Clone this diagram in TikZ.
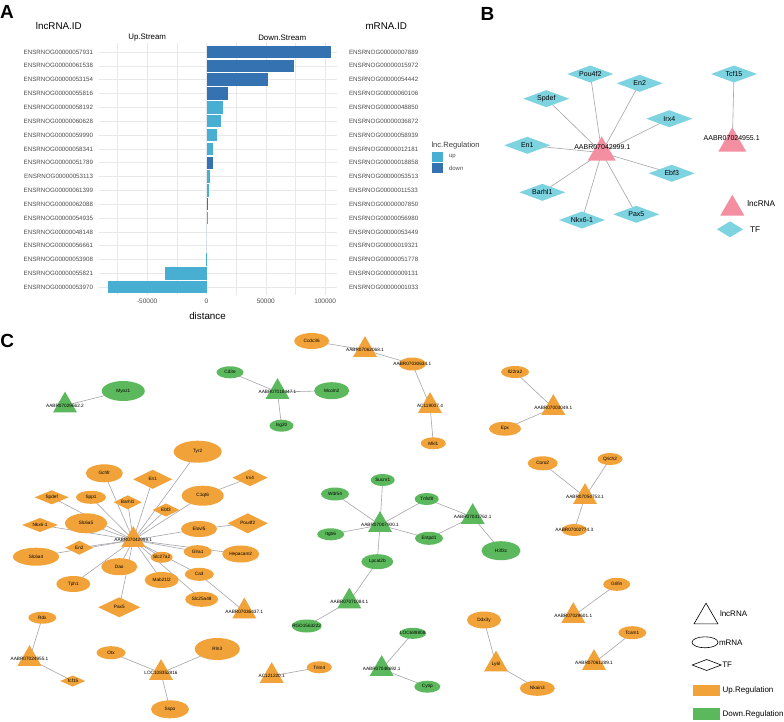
\documentclass[tikz,border=0pt]{standalone}
\usepackage{fontspec}
\setmainfont{Liberation Sans}
\usetikzlibrary{shapes.geometric,backgrounds}
\pgfdeclarelayer{bgw}
\pgfsetlayers{bgw,background,main}
\definecolor{cor}{RGB}{241,163,58}
\definecolor{cgr}{RGB}{92,184,92}
\definecolor{cpk}{RGB}{243,143,160}
\definecolor{ccy}{RGB}{126,211,224}
\definecolor{bdn}{RGB}{53,114,178}
\definecolor{bup}{RGB}{73,175,210}
\definecolor{edg}{RGB}{165,165,172}
\definecolor{grd}{RGB}{232,232,232}
\definecolor{axt}{RGB}{77,77,77}
\newcommand{\Zb}[1]{\makebox[0pt]{#1}}
\begin{document}
\begin{tikzpicture}[x=1pt,y=-1pt,
  every node/.style={inner sep=0pt,outer sep=0pt},
  sz/.style 2 args={minimum width=#1pt,minimum height=#2pt},
  ctx/.style={font=\fontsize{4.7}{5}\selectfont},
  btx/.style={font=\fontsize{7}{8}\selectfont},
  idl/.style={font=\fontsize{6.2}{7}\selectfont,text=axt},
  hdr/.style={font=\fontsize{9.8}{11}\selectfont},
  subh/.style={font=\fontsize{7.9}{9}\selectfont},
  lgt/.style={font=\fontsize{8}{9}\selectfont,anchor=west},
  panel/.style={font=\fontsize{19}{20}\selectfont\bfseries,anchor=base west},
  ctri/.style={regular polygon,regular polygon sides=3,minimum size=27.7pt,ctx},
  uT/.style={ctri,fill=cor},
  dT/.style={ctri,fill=cgr},
  uE/.style={ellipse,fill=cor,ctx},
  dE/.style={ellipse,fill=cgr,ctx},
  uD/.style={diamond,fill=cor,ctx},
  bD/.style={diamond,fill=ccy,btx,sz={46}{17}},
  bT/.style={regular polygon,regular polygon sides=3,fill=cpk},
  lnk/.style={draw=edg,line width=0.6pt},
]
\begin{pgfonlayer}{bgw}
\fill[white] (0,0) rectangle (784,722);
\end{pgfonlayer}
\path[use as bounding box] (0,0) rectangle (784,722);

% ---------------- Panel A ----------------
\node[panel] (pA) at (0,18.3) {A};
\node[hdr] (hL) at (58.8,26) {lncRNA.ID};
\node[hdr] (hM) at (386.2,26) {mRNA.ID};
\node[subh] (hU) at (147.2,38) {Up.Stream};
\node[subh] (hD) at (282.2,38) {Down.Stream};
\foreach \gx in {117.6,176.9,236.2,295.5} \draw[grd,line width=0.3pt] (\gx,43) -- (\gx,295);
\foreach \gx in {147.2,206.5,265.8,325.1} \draw[grd,line width=0.6pt] (\gx,43) -- (\gx,295);
\foreach \i in {0,...,17} \draw[grd,line width=0.6pt] (99,{52+13.84*\i}) -- (337,{52+13.84*\i});
\foreach \i/\l/\m/\e/\c in {
 1/057931/007889/331/bdn, 2/061538/015972/294/bdn, 3/053154/054442/268/bdn,
 4/055816/060106/228.3/bdn, 5/058192/048850/223.3/bup, 6/060628/036872/220.7/bup,
 7/059990/058939/217/bup, 8/058341/012181/212.7/bup, 9/051789/018858/212.7/bdn,
 10/053113/053513/210/bup, 11/061399/011533/209/bup, 12/062088/007850/208/bdn,
 13/054935/056980/207.6/bup, 14/048148/053449/206.5/bup, 15/056661/019321/206.5/bup,
 16/053908/051778/205.8/bup, 17/055821/009131/165.3/bup, 18/053970/001033/107.7/bup}{
  \pgfmathsetmacro\yy{52+13.84*(\i-1)}
  \fill[\c] (206.5,{\yy-6.2}) rectangle (\e,{\yy+6.2});
  \node[idl,anchor=east] (l\i) at (93,\yy) {ENSRNOG00000\l};
  \node[idl,anchor=west] (m\i) at (349,\yy) {ENSRNOG00000\m};
}
\foreach \tx/\tl [count=\k] in {147.2/-50000,206.5/0,265.8/50000,325.1/100000}
  \node[font=\fontsize{6.5}{7}\selectfont,text=axt] (tk\k) at (\tx,301) {\tl};
\node[hdr] (xl) at (207.5,315.7) {distance};
\node[font=\fontsize{7.6}{9}\selectfont,anchor=west,text=axt!80!black] (lgA) at (431.5,145.5) {lnc.Regulation};
\fill[bup] (431.7,151.6) rectangle (443,162.2);
\fill[bdn] (431.7,162.6) rectangle (443,173.2);
\node[font=\fontsize{6}{7}\selectfont,anchor=west,text=axt] (lgAu) at (449,157) {up};
\node[font=\fontsize{6}{7}\selectfont,anchor=west,text=axt] (lgAd) at (449,168) {down};

% ---------------- Panel B ----------------
\node[panel] (pB) at (480.5,20.5) {B};
\node[bD] (bPou) at (590.3,74) {\Zb{Pou4f2}};
\node[bD] (bEn2) at (639.7,83.3) {\Zb{En2}};
\node[bD] (bSpd) at (546.3,98.7) {\Zb{Spdef}};
\node[bD] (bIrx) at (669.3,118.7) {\Zb{Irx4}};
\node[bD] (bEn1) at (527.3,145.3) {\Zb{En1}};
\node[bD] (bEbf) at (671.7,173.3) {\Zb{Ebf3}};
\node[bD] (bBar) at (542.3,192.3) {\Zb{Barhl1}};
\node[bD] (bPax) at (636.3,214.3) {\Zb{Pax5}};
\node[bD] (bNkx) at (582,220) {\Zb{Nkx6-1}};
\node[bD] (bTcf) at (734,74) {\Zb{Tcf15}};
\node[bT,minimum size=32.3pt] (bT1) at (601.7,152.6) {};
\node[bT,minimum size=32.3pt] (bT2) at (732.3,143.6) {};
\node[btx] (bT1l) at (602.3,147.3) {AABR07042999.1};
\node[btx] (bT2l) at (731.7,138.3) {AABR07024955.1};
\node[bT,minimum size=27.7pt] (bLT) at (732.3,208.6) {};
\node[font=\fontsize{8.2}{9}\selectfont,anchor=west] (bLTl) at (747.3,204) {lncRNA};
\node[diamond,fill=ccy,sz={26}{16}] (bLD) at (730,229.3) {};
\node[font=\fontsize{8.2}{9}\selectfont,anchor=west] (bLDl) at (750,229.3) {TF};

% ---------------- Panel C ----------------
\node[panel] (pC) at (0.5,347.5) {C};
% top-left green
\node[dE,sz={43}{20}] (cMyo) at (123.3,391) {\Zb{Myoz1}};
\node[dT] (cT1) at (65,405.5) {\Zb{AABR07029662.2}};
\node[dE,sz={27}{12}] (cCd3) at (230,372.3) {\Zb{Cd3e}};
\node[dT] (cT2) at (277.5,392) {\Zb{AABR07018447.1}};
\node[dE,sz={35}{17}] (cMco) at (331.7,390.7) {\Zb{Mcoln2}};
\node[dE,sz={24}{12}] (cIsg) at (281.5,425.7) {\Zb{Isg20}};
% top orange chains
\node[uE,sz={35}{16}] (cCcd) at (311.7,341) {\Zb{Ccdc36}};
\node[uT] (cT3) at (365,350) {\Zb{AABR07062068.1}};
\node[uE,sz={27}{13}] (cE30) at (412.3,364) {\Zb{AABR07030634.1}};
\node[uT] (cT4) at (430,406) {\Zb{AC119007.4}};
\node[uE,sz={25}{12}] (cMkl) at (433.3,443.3) {\Zb{Mkl1}};
\node[uE,sz={28}{12}] (cIl2) at (515,372) {\Zb{Il22ra2}};
\node[uT] (cT5) at (553.3,408) {\Zb{AABR07003049.1}};
\node[uE,sz={32}{14}] (cEpx) at (505,428.7) {\Zb{Epx}};
% big orange star
\node[uE,sz={48}{22}] (cTyr) at (197.7,451.7) {\Zb{Tyr2}};
\node[uE,sz={37}{18}] (cGch) at (104.3,473.3) {\Zb{Gchfr}};
\node[uD,sz={39}{19}] (cEn1) at (152.7,479.3) {\Zb{En1}};
\node[uD,sz={35}{17}] (cIrx) at (250,477.7) {\Zb{Irx4}};
\node[uD,sz={34}{14}] (cSpd) at (51.7,497.3) {\Zb{Spdef}};
\node[uE,sz={30}{13}] (cSpp) at (91,497.3) {\Zb{Spp1}};
\node[uD,sz={28}{14}] (cBar) at (127.7,502.3) {\Zb{Barhl1}};
\node[uE,sz={42}{20}] (cC1q) at (202.7,495.7) {\Zb{C1qt6}};
\node[uD,sz={27}{13}] (cEbf) at (166,510) {\Zb{Ebf3}};
\node[uE,sz={42}{20}] (cS65) at (86,523.3) {\Zb{Slc6a5}};
\node[uD,sz={36}{14}] (cNkx) at (40,525) {\Zb{Nkx6-1}};
\node[uD,sz={40}{20}] (cPou) at (247.7,523.3) {\Zb{Pou4f2}};
\node[uE,sz={36}{16}] (cElo) at (199,529) {\Zb{Elovl5}};
\node[uE,sz={46}{18}] (cS64) at (36,556.7) {\Zb{Slc6a4}};
\node[uD,sz={28}{14}] (cEn2) at (79.3,547.7) {\Zb{En2}};
\node[uE,sz={28}{13}] (cGlr) at (197.7,551.7) {\Zb{Glra1}};
\node[uE,sz={37}{17}] (cHep) at (240.7,554) {\Zb{Hepacam2}};
\node[uE,sz={36}{17}] (cDao) at (119.3,566.7) {\Zb{Dao}};
\node[uE,sz={22}{11}] (cS27) at (161.7,557.3) {\Zb{Slc27a2}};
\node[uE,sz={34}{16}] (cMab) at (161.7,580) {\Zb{Mab21l2}};
\node[uE,sz={29}{13}] (cCa3) at (199.3,574.3) {\Zb{Ca3}};
\node[uE,sz={34}{16}] (cTph) at (73.3,584) {\Zb{Tph1}};
\node[uE,sz={33}{15}] (cS25) at (201.7,599.3) {\Zb{Slc25a48}};
\node[uD,sz={42}{20}] (cPax) at (119.3,607.3) {\Zb{Pax5}};
\node[uT] (cT6) at (133.3,540) {\Zb{AABR07042999.1}};
\node[uT] (cT7) at (244.3,611.5) {\Zb{AABR07036437.1}};
% bottom-left orange
\node[uE,sz={28}{12}] (cRdx) at (42.3,617.7) {\Zb{Rdx}};
\node[uT] (cT8) at (29.5,659) {\Zb{AABR07024955.1}};
\node[uD,sz={25}{11}] (cTcf) at (72.7,681) {\Zb{Tcf15}};
\node[uE,sz={29}{13}] (cOtx) at (111,652.7) {\Zb{Otx}};
\node[uE,sz={45}{22}] (cRln) at (217.3,649) {\Zb{Rln3}};
\node[uE,sz={38}{18}] (cSsp) at (170,709.3) {\Zb{Sspo}};
\node[uT] (cT9) at (161,673) {\Zb{LOC108352816}};
\node[uE,sz={25}{12}] (cTrm) at (319.3,667.3) {\Zb{Trim4}};
\node[uT] (cT10) at (271.7,676) {\Zb{AC121220.1}};
% green middle
\node[dE,sz={24}{12}] (cSuc) at (382.7,480) {\Zb{Sucnr1}};
\node[dE,sz={28}{13}] (cWdr) at (335,494) {\Zb{Wdr54}};
\node[dE,sz={24}{12}] (cTnf) at (426.7,499) {\Zb{Tnfsf8}};
\node[dE,sz={27}{12}] (cItg) at (330.7,534.3) {\Zb{Itgb6}};
\node[dE,sz={28}{13}] (cEnt) at (429,538.3) {\Zb{Entpd1}};
\node[dE,sz={39}{19}] (cH3f) at (501,550.7) {\Zb{H3f3c}};
\node[dE,sz={32}{15}] (cLpc) at (377.3,561.7) {\Zb{Lpcat2b}};
\node[dE,sz={30}{13}] (cRGD) at (306.7,626) {\Zb{RGD1563222}};
\node[dT] (cT11) at (380,525) {\Zb{AABR07007900.1}};
\node[dT] (cT12) at (472.7,517) {\Zb{AABR07031762.1}};
\node[dT] (cT13) at (349.3,601.5) {\Zb{AABR07071084.1}};
\node[dE,sz={27}{11}] (cLOC) at (412.7,633.3) {\Zb{LOC689808}};
\node[dT] (cT14) at (381.7,669) {\Zb{AABR07048692.1}};
\node[dE,sz={26}{12}] (cCyt) at (427.3,686.7) {\Zb{Cytip}};
% orange right
\node[uE,sz={34}{17}] (cDdx) at (484,620) {\Zb{Ddx3y}};
\node[uT] (cT15) at (496,664.5) {\Zb{Ly6l}};
\node[uE,sz={35}{15}] (cNka) at (537.3,688.3) {\Zb{Nkain3}};
\node[uE,sz={28}{13}] (cTca) at (632.3,632.7) {\Zb{Tcam1}};
\node[uT] (cT16) at (594,663) {\Zb{AABR07061289.1}};
\node[uE,sz={27}{13}] (cGri) at (616.7,584.3) {\Zb{Grifin}};
\node[uT] (cT17) at (573.3,616) {\Zb{AABR07029601.1}};
\node[uE,sz={30}{14}] (cCor) at (542.7,463.3) {\Zb{Coro2}};
\node[uE,sz={25}{12}] (cQri) at (610,459) {\Zb{Qrich2}};
\node[uT] (cT18) at (585,497) {\Zb{AABR07054753.1}};
\node[uE,sz={25}{12}] (cE27) at (574.3,530) {\Zb{AABR07002774.3}};
% legend C
\node[regular polygon,regular polygon sides=3,minimum size=27.7pt,draw=black,line width=0.6pt] (lgT) at (706,617) {};
\node[lgt] (lgTl) at (720,613.3) {lncRNA};
\node[ellipse,draw=black,line width=0.6pt,sz={26}{11}] (lgE) at (705,642.3) {};
\node[lgt] (lgEl) at (719,642.3) {mRNA};
\node[diamond,draw=black,line width=0.6pt,sz={29}{11}] (lgD) at (706.7,665) {};
\node[lgt] (lgDl) at (722.3,665) {TF};
\node[rectangle,fill=cor,sz={26.7}{11}] (lgU) at (706.7,690.5) {};
\node[lgt] (lgUl) at (722.7,690.5) {Up.Regulation};
\node[rectangle,fill=cgr,sz={26.7}{11.7}] (lgG) at (706.7,714.2) {};
\node[lgt] (lgGl) at (722.7,714.2) {Down.Regulation};

% ---------------- edges ----------------
\begin{pgfonlayer}{background}
\foreach \a/\b in {bT1/bPou,bT1/bEn2,bT1/bSpd,bT1/bIrx,bT1/bEn1,bT1/bEbf,bT1/bBar,bT1/bPax,bT1/bNkx,bT2/bTcf,
  cT1/cMyo,cCd3/cT2,cT2/cMco,cT2/cIsg,
  cCcd/cT3,cT3/cE30,cE30/cT4,cT4/cMkl,cIl2/cT5,cT5/cEpx,
  cT6/cTyr,cT6/cGch,cT6/cEn1,cT6/cSpd,cT6/cSpp,cT6/cBar,cT6/cC1q,cT6/cEbf,cT6/cS65,cT6/cNkx,
  cT6/cElo,cT6/cS64,cT6/cEn2,cT6/cGlr,cT6/cHep,cT6/cDao,cT6/cS27,cT6/cMab,cT6/cCa3,cT6/cTph,
  cT6/cS25,cT6/cPax,cC1q/cIrx,cElo/cPou,cCa3/cT7,
  cRdx/cT8,cT8/cTcf,cOtx/cT9,cT9/cRln,cT9/cSsp,cT10/cTrm,
  cSuc/cT11,cWdr/cT11,cItg/cT11,cTnf/cT11,cEnt/cT11,cLpc/cT11,cTnf/cT12,cEnt/cT12,cT12/cH3f,
  cLpc/cT13,cT13/cRGD,cLOC/cT14,cT14/cCyt,
  cDdx/cT15,cT15/cNka,cTca/cT16,cGri/cT17,cCor/cT18,cQri/cT18,cT18/cE27}
  \draw[lnk] (\a.center) -- (\b.center);
\end{pgfonlayer}
\end{tikzpicture}
\end{document}
